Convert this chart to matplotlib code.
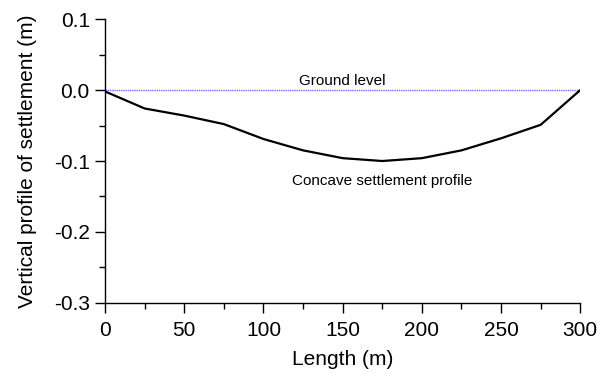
import matplotlib
matplotlib.use("Agg")
import matplotlib.pyplot as plt
from matplotlib.ticker import MultipleLocator, FormatStrFormatter

plt.rcParams['font.family'] = ['Liberation Sans', 'DejaVu Sans']

length_m = [0, 25, 50, 75, 100, 125, 150, 175, 200, 225, 250, 275, 300]
settlement_m = [-0.002, -0.026, -0.036, -0.048, -0.069, -0.085, -0.096, -0.100,
                -0.096, -0.085, -0.068, -0.049, 0.0]
ground_x = [0, 300]
ground_y = [0.0, 0.0]

fig = plt.figure(figsize=(5.97, 3.74), dpi=100)
ax = fig.add_axes([0.176, 0.19, 0.796, 0.759])

ax.plot(ground_x, ground_y, color='#7070ff', linestyle=(0, (1, 0.6)), linewidth=1.0)
ax.plot(length_m, settlement_m, color='black', linewidth=1.6)

ax.set_xlim(0, 300)
ax.set_ylim(-0.3, 0.1)
ax.xaxis.set_major_locator(MultipleLocator(50))
ax.xaxis.set_minor_locator(MultipleLocator(25))
ax.yaxis.set_major_locator(MultipleLocator(0.1))
ax.yaxis.set_minor_locator(MultipleLocator(0.05))
ax.yaxis.set_major_formatter(FormatStrFormatter('%.1f'))

for s in ['top', 'right']:
    ax.spines[s].set_visible(False)
for s in ['left', 'bottom']:
    ax.spines[s].set_linewidth(1.0)

ax.tick_params(which='major', direction='out', length=7, width=1.0, labelsize=15)
ax.tick_params(axis='x', which='major', pad=6)
ax.tick_params(axis='y', which='major', pad=4)
ax.tick_params(which='minor', direction='out', length=4, width=1.0)

ax.set_xlabel('Length (m)', fontsize=15, labelpad=7)
ax.set_ylabel('Vertical profile of settlement (m)', fontsize=15, labelpad=12)

ax.text(150, 0.0125, 'Ground level', fontsize=11, ha='center', va='center')
ax.text(175, -0.128, 'Concave settlement profile', fontsize=11, ha='center', va='center')

fig.savefig('out.png', dpi=100)
